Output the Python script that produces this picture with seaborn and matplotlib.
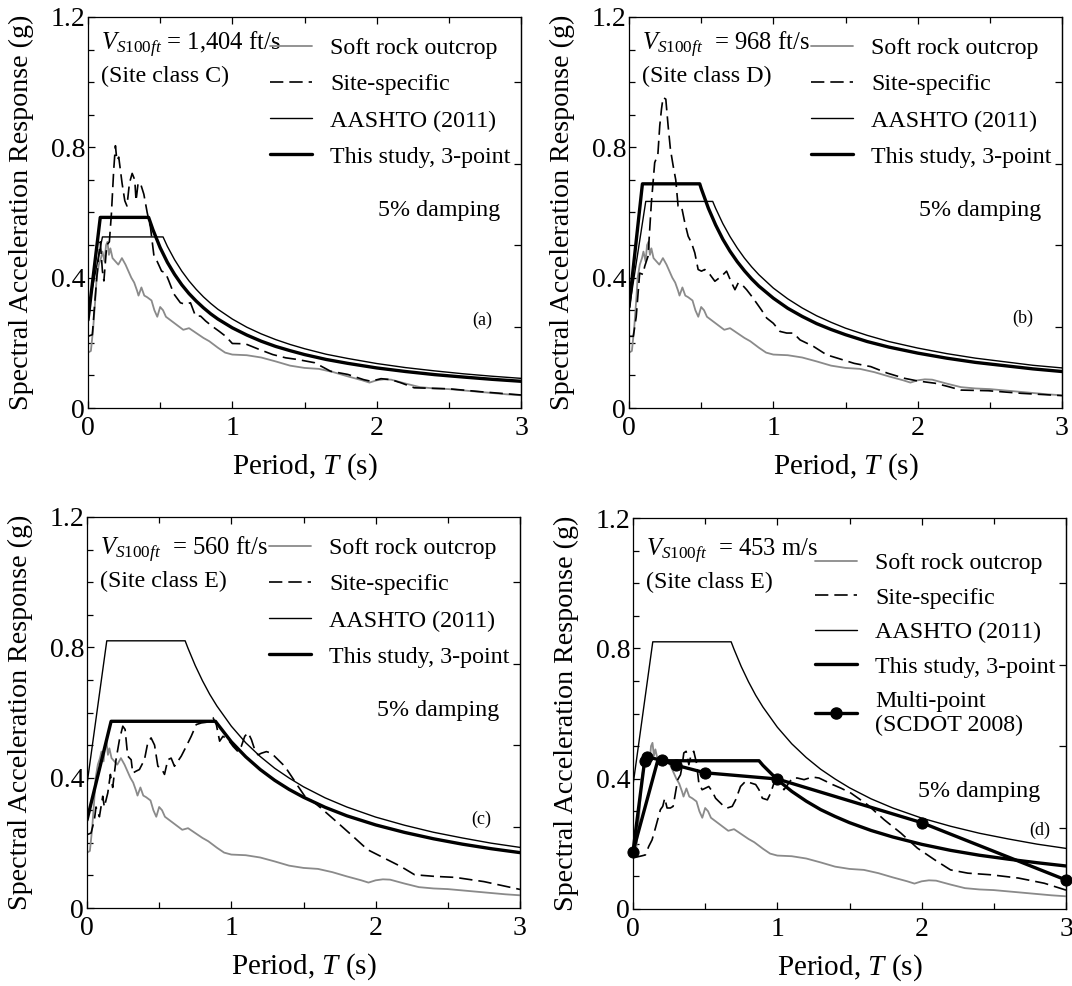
import numpy as np
import pandas as pd
import matplotlib
matplotlib.use("Agg")
import matplotlib.pyplot as plt
import seaborn as sns
from matplotlib.lines import Line2D
from matplotlib.ticker import MultipleLocator

# ---------------- data ----------------
grey_T = [0.0, 0.02, 0.035, 0.05, 0.06, 0.075, 0.09, 0.1, 0.115, 0.125, 0.135, 0.145, 0.155, 0.17,
          0.19, 0.21, 0.235, 0.26, 0.28, 0.3, 0.32, 0.34, 0.35, 0.37, 0.39, 0.41, 0.44, 0.46, 0.48,
          0.5, 0.52, 0.54, 0.57, 0.6, 0.63, 0.66, 0.7, 0.75, 0.8, 0.84, 0.9, 0.95, 1.0, 1.1, 1.2,
          1.3, 1.4, 1.5, 1.6, 1.7, 1.8, 1.9, 1.95, 2.0, 2.05, 2.1, 2.2, 2.3, 2.4, 2.5, 2.6, 2.7,
          2.8, 2.9, 3.0]
grey_Sa = [0.17, 0.175, 0.24, 0.33, 0.40, 0.44, 0.46, 0.48, 0.45, 0.50, 0.51, 0.47, 0.49, 0.46,
           0.45, 0.44, 0.46, 0.44, 0.42, 0.40, 0.385, 0.36, 0.345, 0.37, 0.345, 0.34, 0.33, 0.30,
           0.28, 0.31, 0.30, 0.28, 0.27, 0.26, 0.25, 0.24, 0.245, 0.23, 0.215, 0.205, 0.185, 0.17,
           0.164, 0.162, 0.155, 0.143, 0.13, 0.123, 0.12, 0.11, 0.097, 0.085, 0.078, 0.085, 0.088,
           0.087, 0.075, 0.064, 0.06, 0.058, 0.054, 0.05, 0.046, 0.042, 0.039]

a_site_T = [0.0, 0.03, 0.05, 0.07, 0.085, 0.1, 0.11, 0.13, 0.148, 0.162, 0.178, 0.19, 0.2, 0.213,
            0.236, 0.255, 0.27, 0.287, 0.306, 0.324, 0.333, 0.347, 0.363, 0.387, 0.41, 0.433,
            0.456, 0.479, 0.51, 0.537, 0.56, 0.595, 0.64, 0.676, 0.71, 0.745, 0.78, 0.815, 0.86,
            0.907, 0.954, 1.0, 1.09, 1.185, 1.28, 1.37, 1.45, 1.57, 1.68, 1.8, 1.91, 1.96, 2.03,
            2.1, 2.17, 2.26, 2.5, 2.72, 3.0]
a_site_Sa = [0.22, 0.225, 0.34, 0.45, 0.51, 0.42, 0.39, 0.50, 0.51, 0.595, 0.73, 0.805, 0.76,
             0.77, 0.69, 0.636, 0.62, 0.69, 0.72, 0.70, 0.636, 0.69, 0.69, 0.656, 0.60, 0.554,
             0.47, 0.45, 0.42, 0.415, 0.39, 0.35, 0.323, 0.318, 0.323, 0.282, 0.282, 0.267,
             0.251, 0.236, 0.22, 0.198, 0.197, 0.18, 0.164, 0.154, 0.149, 0.139, 0.113, 0.103,
             0.087, 0.082, 0.09, 0.087, 0.077, 0.062, 0.059, 0.05, 0.04]

b_site_T = [0.0, 0.03, 0.05, 0.074, 0.097, 0.109, 0.132, 0.155, 0.178, 0.2, 0.213, 0.225, 0.236,
            0.255, 0.271, 0.287, 0.306, 0.324, 0.34, 0.363, 0.387, 0.41, 0.433, 0.456, 0.479,
            0.502, 0.525, 0.56, 0.595, 0.64, 0.676, 0.711, 0.734, 0.757, 0.78, 0.815, 0.85,
            0.884, 0.919, 0.954, 1.0, 1.046, 1.093, 1.139, 1.185, 1.278, 1.37, 1.444, 1.56,
            1.675, 1.79, 1.91, 2.0, 2.12, 2.21, 2.3, 2.49, 2.72, 3.0]
b_site_Sa = [0.22, 0.22, 0.28, 0.414, 0.41, 0.435, 0.466, 0.63, 0.753, 0.778, 0.866, 0.917,
             0.953, 0.948, 0.866, 0.794, 0.743, 0.70, 0.62, 0.62, 0.568, 0.527, 0.507, 0.476,
             0.425, 0.42, 0.425, 0.41, 0.389, 0.404, 0.42, 0.384, 0.363, 0.384, 0.38, 0.363,
             0.343, 0.322, 0.30, 0.276, 0.26, 0.235, 0.23, 0.23, 0.209, 0.189, 0.163, 0.153,
             0.137, 0.127, 0.107, 0.091, 0.083, 0.076, 0.066, 0.055, 0.053, 0.045, 0.038]

c_site_T = [0.0, 0.028, 0.051, 0.0625, 0.086, 0.109, 0.12, 0.144, 0.162, 0.178, 0.201, 0.225,
            0.248, 0.264, 0.282, 0.306, 0.317, 0.34, 0.363, 0.398, 0.421, 0.444, 0.468, 0.491,
            0.514, 0.537, 0.56, 0.583, 0.606, 0.653, 0.6875, 0.722, 0.757, 0.792, 0.826, 0.85,
            0.873, 0.896, 0.919, 0.942, 0.977, 1.012, 1.046, 1.069, 1.093, 1.116, 1.139, 1.162,
            1.185, 1.208, 1.243, 1.278, 1.324, 1.37, 1.417, 1.463, 1.509, 1.579, 1.62, 1.713,
            1.83, 1.944, 2.06, 2.176, 2.27, 2.41, 2.55, 2.75, 3.0]
c_site_Sa = [0.225, 0.23, 0.27, 0.31, 0.28, 0.343, 0.31, 0.353, 0.41, 0.37, 0.455, 0.517, 0.558,
             0.548, 0.466, 0.455, 0.414, 0.42, 0.425, 0.455, 0.507, 0.522, 0.50, 0.435, 0.43,
             0.41, 0.455, 0.46, 0.435, 0.466, 0.496, 0.527, 0.563, 0.568, 0.57, 0.578, 0.584,
             0.563, 0.512, 0.527, 0.517, 0.496, 0.48, 0.496, 0.527, 0.538, 0.517, 0.486, 0.47,
             0.475, 0.48, 0.475, 0.455, 0.435, 0.404, 0.373, 0.343, 0.322, 0.307, 0.271, 0.225,
             0.179, 0.153, 0.127, 0.102, 0.097, 0.094, 0.081, 0.057]

d_site_T = [0.0, 0.03, 0.06, 0.086, 0.109, 0.132, 0.155, 0.171, 0.19, 0.206, 0.22, 0.236, 0.259,
            0.278, 0.294, 0.31, 0.329, 0.34, 0.352, 0.368, 0.387, 0.403, 0.421, 0.44, 0.456,
            0.479, 0.502, 0.525, 0.549, 0.572, 0.595, 0.63, 0.653, 0.6875, 0.711, 0.745, 0.78,
            0.815, 0.85, 0.873, 0.896, 0.931, 0.954, 0.977, 1.0, 1.023, 1.046, 1.069, 1.104,
            1.139, 1.185, 1.243, 1.289, 1.336, 1.382, 1.44, 1.509, 1.625, 1.74, 1.856, 1.97,
            2.09, 2.2, 2.32, 2.48, 2.67, 2.85, 3.0]
d_site_Sa = [0.161, 0.16, 0.163, 0.166, 0.192, 0.212, 0.248, 0.274, 0.305, 0.315, 0.34, 0.31,
             0.31, 0.315, 0.356, 0.397, 0.412, 0.438, 0.479, 0.484, 0.443, 0.474, 0.484, 0.448,
             0.387, 0.366, 0.371, 0.376, 0.361, 0.34, 0.33, 0.315, 0.31, 0.315, 0.335, 0.376,
             0.392, 0.387, 0.382, 0.366, 0.34, 0.335, 0.356, 0.387, 0.392, 0.382, 0.366, 0.38,
             0.402, 0.402, 0.397, 0.405, 0.402, 0.392, 0.382, 0.371, 0.356, 0.32, 0.274, 0.233,
             0.187, 0.151, 0.12, 0.11, 0.105, 0.095, 0.079, 0.058]

a_aashto_T = [0, 0.10, 0.52, 0.55, 0.6, 0.65, 0.7, 0.75, 0.8, 0.85, 0.9, 1.0, 1.1, 1.2, 1.3, 1.4,
              1.5, 1.65, 1.8, 2.0, 2.2, 2.4, 2.6, 2.8, 3.0]
a_aashto_Sa = [0.30, 0.525, 0.525, 0.496, 0.455, 0.42, 0.39, 0.364, 0.341, 0.321, 0.303, 0.273,
               0.248, 0.2275, 0.21, 0.195, 0.182, 0.165, 0.152, 0.1365, 0.124, 0.114, 0.105,
               0.0975, 0.091]
a_study_T = [0, 0.085, 0.42, 0.45, 0.5, 0.55, 0.6, 0.65, 0.7, 0.75, 0.8, 0.85, 0.9, 1.0, 1.1, 1.2,
             1.3, 1.4, 1.5, 1.65, 1.8, 2.0, 2.2, 2.4, 2.6, 2.8, 3.0]
a_study_Sa = [0.27, 0.585, 0.585, 0.547, 0.492, 0.447, 0.41, 0.378, 0.351, 0.328, 0.3075, 0.289,
              0.273, 0.246, 0.224, 0.205, 0.189, 0.176, 0.164, 0.149, 0.137, 0.123, 0.112,
              0.1025, 0.095, 0.088, 0.082]

b_aashto_T = [0, 0.116, 0.58, 0.6, 0.65, 0.7, 0.75, 0.8, 0.85, 0.9, 1.0, 1.1, 1.2, 1.3, 1.4, 1.5,
              1.65, 1.8, 2.0, 2.2, 2.4, 2.6, 2.8, 3.0]
b_aashto_Sa = [0.30, 0.634, 0.634, 0.613, 0.566, 0.526, 0.491, 0.46, 0.433, 0.409, 0.368, 0.335,
               0.307, 0.283, 0.263, 0.245, 0.223, 0.204, 0.184, 0.167, 0.153, 0.142, 0.131,
               0.123]
b_study_T = [0, 0.093, 0.49, 0.5, 0.55, 0.6, 0.65, 0.7, 0.75, 0.8, 0.85, 0.9, 1.0, 1.1, 1.2, 1.3,
             1.4, 1.5, 1.65, 1.8, 2.0, 2.2, 2.4, 2.6, 2.8, 3.0]
b_study_Sa = [0.31, 0.688, 0.688, 0.674, 0.613, 0.562, 0.518, 0.481, 0.449, 0.421, 0.396, 0.374,
              0.337, 0.306, 0.281, 0.259, 0.241, 0.225, 0.204, 0.187, 0.1685, 0.153, 0.140,
              0.130, 0.120, 0.112]

cd_aashto_T = [0, 0.137, 0.68, 0.7, 0.75, 0.8, 0.85, 0.9, 1.0, 1.1, 1.2, 1.3, 1.4, 1.5, 1.65,
               1.8, 2.0, 2.2, 2.4, 2.6, 2.8, 3.0]
cd_aashto_Sa = [0.38, 0.82, 0.82, 0.797, 0.744, 0.6975, 0.656, 0.62, 0.558, 0.507, 0.465, 0.429,
                0.399, 0.372, 0.338, 0.31, 0.279, 0.254, 0.2325, 0.215, 0.199, 0.186]
c_study_T = [0, 0.167, 0.89, 0.9, 1.0, 1.1, 1.2, 1.3, 1.4, 1.5, 1.65, 1.8, 2.0, 2.2, 2.4, 2.6,
             2.8, 3.0]
c_study_Sa = [0.27, 0.573, 0.573, 0.567, 0.51, 0.464, 0.425, 0.392, 0.364, 0.34, 0.309, 0.283,
              0.255, 0.232, 0.2125, 0.196, 0.182, 0.17]
d_study_T = [0, 0.171, 0.873, 0.9, 1.0, 1.1, 1.2, 1.3, 1.4, 1.5, 1.65, 1.8, 2.0, 2.2, 2.4, 2.6,
             2.8, 3.0]
d_study_Sa = [0.176, 0.455, 0.455, 0.441, 0.397, 0.361, 0.331, 0.305, 0.284, 0.265, 0.241, 0.221,
              0.1985, 0.180, 0.165, 0.153, 0.142, 0.132]

multi_T = [0, 0.08, 0.1, 0.2, 0.3, 0.5, 1.0, 2.0, 3.0]
multi_Sa = [0.176, 0.453, 0.467, 0.456, 0.441, 0.418, 0.399, 0.265, 0.089]

legend_labels = ["Soft rock outcrop", "Site-specific", "AASHTO (2011)", "This study, 3-point"]
multi_label = "Multi-point\n(SCDOT 2008)"
vs_texts = [" = 1,404 ft/s", "  = 968 ft/s", "  = 560 ft/s", "  = 453 m/s"]
site_classes = ["(Site class C)", "(Site class D)", "(Site class E)", "(Site class E)"]
panel_tags = ["(a)", "(b)", "(c)", "(d)"]
x_ticks = [0, 1, 2, 3]
y_ticks = [0, 0.4, 0.8, 1.2]
y_tick_labels = ["0", "0.4", "0.8", "1.2"]

# ---------------- style ----------------
sns.set_theme(style="ticks")
plt.rcParams["font.family"] = ["Liberation Serif", "DejaVu Serif"]
plt.rcParams["mathtext.fontset"] = "custom"
plt.rcParams["mathtext.rm"] = "Liberation Serif"
plt.rcParams["mathtext.it"] = "Liberation Serif:italic"
plt.rcParams["axes.linewidth"] = 0.9

GREY = "#8a8a8a"
FS_TICK = 20
FS_YLAB = 20.2
FS_XLAB = 21
FS_LEG = 17.3

fig = plt.figure(figsize=(10.72, 9.86), dpi=100)
rects = [
    [88 / 1072, (986 - 408) / 986, 433 / 1072, 391 / 986],
    [629 / 1072, (986 - 408) / 986, 433 / 1072, 391 / 986],
    [87 / 1072, (986 - 908) / 986, 433 / 1072, 391 / 986],
    [633 / 1072, (986 - 909) / 986, 433 / 1072, 391 / 986],
]

panels = [
    dict(site=(a_site_T, a_site_Sa), aashto=(a_aashto_T, a_aashto_Sa), study=(a_study_T, a_study_Sa)),
    dict(site=(b_site_T, b_site_Sa), aashto=(b_aashto_T, b_aashto_Sa), study=(b_study_T, b_study_Sa)),
    dict(site=(c_site_T, c_site_Sa), aashto=(cd_aashto_T, cd_aashto_Sa), study=(c_study_T, c_study_Sa)),
    dict(site=(d_site_T, d_site_Sa), aashto=(cd_aashto_T, cd_aashto_Sa), study=(d_study_T, d_study_Sa)),
]

DASH = (0, (8, 3.6))

for i, (rect, p) in enumerate(zip(rects, panels)):
    ax = fig.add_axes(rect)
    grey_df = pd.DataFrame({"T": grey_T, "Sa": grey_Sa})
    site_df = pd.DataFrame({"T": p["site"][0], "Sa": p["site"][1]})
    aash_df = pd.DataFrame({"T": p["aashto"][0], "Sa": p["aashto"][1]})
    stud_df = pd.DataFrame({"T": p["study"][0], "Sa": p["study"][1]})

    sns.lineplot(data=grey_df, x="T", y="Sa", ax=ax, color=GREY, lw=1.3,
                 estimator=None, sort=False, legend=False)
    sns.lineplot(data=site_df, x="T", y="Sa", ax=ax, color="black", lw=1.2,
                 linestyle=DASH, estimator=None, sort=False, legend=False)
    sns.lineplot(data=aash_df, x="T", y="Sa", ax=ax, color="black", lw=1.0,
                 estimator=None, sort=False, legend=False)
    sns.lineplot(data=stud_df, x="T", y="Sa", ax=ax, color="black", lw=2.4,
                 estimator=None, sort=False, legend=False)
    if i == 3:
        multi_df = pd.DataFrame({"T": multi_T, "Sa": multi_Sa})
        sns.lineplot(data=multi_df, x="T", y="Sa", ax=ax, color="black", lw=2.4,
                     marker="o", markersize=8, markeredgecolor="black",
                     estimator=None, sort=False, legend=False, clip_on=False, zorder=5)

    ax.set_xlim(0, 3)
    ax.set_ylim(0, 1.2)
    ax.set_xticks(x_ticks)
    ax.set_xticklabels([str(t) for t in x_ticks])
    ax.set_yticks(y_ticks)
    ax.set_yticklabels(y_tick_labels)
    ax.xaxis.set_minor_locator(MultipleLocator(0.5))
    ax.yaxis.set_minor_locator(MultipleLocator(0.1))
    ax.tick_params(axis="both", which="both", direction="in", top=True, right=False,
                   labelsize=FS_TICK, width=0.9, color="black", labelcolor="black")
    ax.tick_params(axis="both", which="major", length=5)
    ax.tick_params(axis="both", which="minor", length=4)
    ax.tick_params(axis="x", which="both", pad=6)
    ax.tick_params(axis="y", which="both", pad=2)
    for s in ax.spines.values():
        s.set_color("black")
        s.set_linewidth(0.9)

    sec = ax.secondary_yaxis("right")
    sec.set_yticks([0.25, 0.5, 0.75, 1.0])
    sec.set_yticklabels([])
    sec.tick_params(direction="in", length=5, width=0.9, color="black")
    sec.spines["right"].set_linewidth(0.9)

    ax.set_xlabel(r"Period, $\mathit{T}$ (s)", fontsize=FS_XLAB, color="black")
    ax.set_ylabel("Spectral Acceleration Response (g)", fontsize=FS_YLAB, color="black")
    ax.xaxis.set_label_coords(0.5, -0.11)
    ax.yaxis.set_label_coords(-0.125, 0.5)

    # annotations
    vy = 0.928 if i < 2 else 0.915
    ax.text(0.03, vy, r"$\mathit{V}_{\mathit{S100ft}}$" + vs_texts[i], transform=ax.transAxes,
            fontsize=FS_LEG + 0.4, ha="left", va="center", color="black")
    ax.text(0.03, vy - 0.08, site_classes[i], transform=ax.transAxes,
            fontsize=FS_LEG, ha="left", va="center", color="black")
    dy = 0.505 if i < 3 else 0.30
    dx = 0.952 if i < 3 else 0.94
    ax.text(dx, dy, "5% damping", transform=ax.transAxes, fontsize=FS_LEG,
            ha="right", va="center", color="black")
    tx, ty = [(0.91, 0.223), (0.91, 0.23), (0.91, 0.228), (0.94, 0.20)][i]
    ax.text(tx, ty, panel_tags[i], transform=ax.transAxes, fontsize=13,
            ha="center", va="center", color="black")

    handles = [
        Line2D([], [], color=GREY, lw=1.3),
        Line2D([], [], color="black", lw=1.2, linestyle=DASH),
        Line2D([], [], color="black", lw=1.0),
        Line2D([], [], color="black", lw=2.4),
    ]
    labels = list(legend_labels)
    if i == 3:
        handles.append(Line2D([], [], color="black", lw=2.4, marker="o", markersize=8))
        labels.append(multi_label)
    ly = 0.948 if i < 3 else 0.912
    ls = 0.6 if i < 3 else 0.53
    ax.legend(handles, labels, loc="upper left", bbox_to_anchor=(0.42, ly),
              frameon=False, fontsize=FS_LEG, handlelength=1.75, handletextpad=0.75,
              labelspacing=ls, borderaxespad=0, borderpad=0, labelcolor="black")

fig.savefig("out.png", dpi=100, facecolor="white")
